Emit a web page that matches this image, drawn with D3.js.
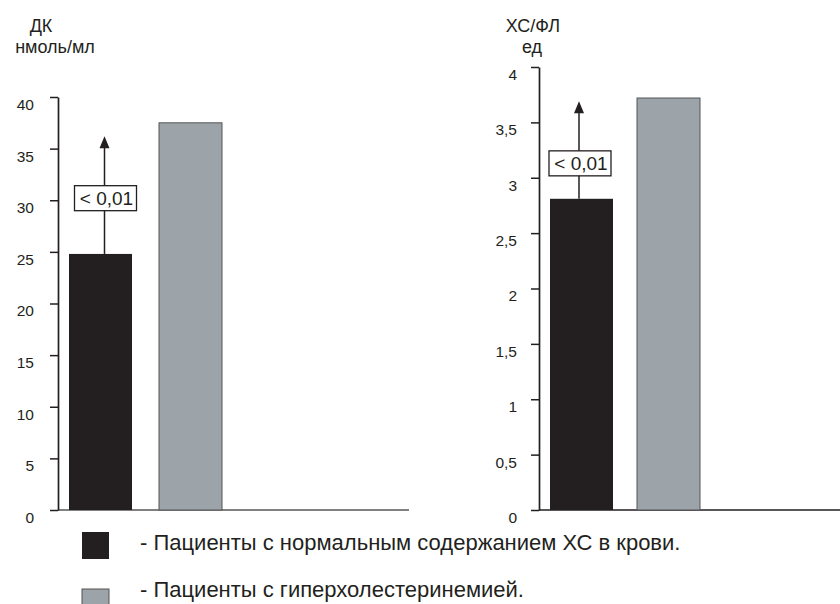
<!DOCTYPE html>
<html><head><meta charset="utf-8">
<script src="https://cdn.jsdelivr.net/npm/d3@7"></script>
<style>
html,body{margin:0;padding:0;background:#fff;}
svg{display:block;font-family:"Liberation Sans",Arial,Helvetica,sans-serif;}
</style></head>
<body>
<svg id="chart" width="840" height="604"></svg>
<script>
// ---- data ----
const groups = ["Пациенты с нормальным содержанием ХС в крови.", "Пациенты с гиперхолестеринемией."];
const groupColors = ["#231f20", "#9ca3a9"];
const dkValues = [24.8, 37.5];
const dkTicks = [0, 5, 10, 15, 20, 25, 30, 35, 40];
const dkTitle = ["ДК", "нмоль/мл"];
const xsflValues = [2.81, 3.72];
const xsflTicks = [0, 0.5, 1, 1.5, 2, 2.5, 3, 3.5, 4];
const xsflTitle = ["ХС/ФЛ", "ед"];
const pLabel = "< 0,01";
const dkArrow = {top: 36.2, box: 30.2};
const xsflArrow = {top: 3.69, box: 3.13};

const svg = d3.select("#chart");
const fmt = v => String(v).replace(".", ",");

function drawPanel(cfg) {
  const g = svg.append("g");
  const y = d3.scaleLinear().domain([0, cfg.max]).range([510, cfg.yTop]);
  const x = d3.scaleBand().domain(groups).range(cfg.barRange).paddingInner(cfg.pad).paddingOuter(0);

  // x axis baseline
  g.append("line").attr("x1", cfg.axisX).attr("x2", cfg.xEnd)
    .attr("y1", y(0)).attr("y2", y(0))
    .attr("stroke", cfg.baseColor).attr("stroke-width", cfg.baseWidth);

  // bars
  g.selectAll("rect.bar").data(cfg.values).enter().append("rect")
    .attr("class", "bar")
    .attr("x", (d, i) => x(groups[i]))
    .attr("width", x.bandwidth())
    .attr("y", d => y(d))
    .attr("height", d => y(0) - y(d))
    .attr("fill", (d, i) => groupColors[i])
    .attr("stroke", (d, i) => i === 1 ? "#555" : "none")
    .attr("stroke-width", 1);

  // y axis
  const ax = g.append("g").attr("transform", `translate(${cfg.axisX},0)`)
    .call(d3.axisLeft(y).tickValues(cfg.ticks).tickFormat(fmt).tickSize(8).tickPadding(cfg.tickPad).tickSizeOuter(0));
  ax.select(".domain").attr("stroke", "#231f20").attr("stroke-width", 1.7);
  ax.selectAll(".tick line").attr("stroke", "#231f20").attr("stroke-width", 1.5);
  ax.selectAll(".tick text").attr("font-size", 15.5).attr("fill", "#231f20")
    .attr("dy", "0.8em").attr("font-family", "Liberation Sans, Arial, sans-serif");

  // titles
  g.append("text").attr("x", cfg.t1x).attr("y", 32).attr("text-anchor", "middle")
    .attr("font-size", 18).attr("fill", "#231f20").text(cfg.title[0]);
  g.append("text").attr("x", cfg.t2x).attr("y", 53).attr("text-anchor", "middle")
    .attr("font-size", 18).attr("fill", "#231f20").text(cfg.title[1]);

  // significance arrow
  const ax0 = x(groups[0]) + x.bandwidth() / 2 + cfg.arrowDx;
  const tipY = y(cfg.arrow.top);
  g.append("line").attr("x1", ax0).attr("x2", ax0)
    .attr("y1", y(cfg.values[0])).attr("y2", tipY + 10)
    .attr("stroke", "#231f20").attr("stroke-width", 1.5);
  g.append("path")
    .attr("d", `M${ax0},${tipY} L${ax0 - 5},${tipY + 12} L${ax0 + 5},${tipY + 12} Z`)
    .attr("fill", "#231f20");
  const by = y(cfg.arrow.box);
  const bw = 62, bh = 25;
  g.append("rect").attr("x", ax0 - bw / 2 + 1).attr("y", by - bh / 2)
    .attr("width", bw).attr("height", bh)
    .attr("fill", "#fff").attr("stroke", "#231f20").attr("stroke-width", 1.3);
  g.append("text").attr("x", ax0 + 2).attr("y", by + 7).attr("text-anchor", "middle")
    .attr("font-size", 19).attr("fill", "#231f20").text(pLabel);
}

drawPanel({
  values: dkValues, ticks: dkTicks, max: 40, yTop: 97, title: dkTitle,
  axisX: 58, xEnd: 409, barRange: [69, 222], pad: 0.3,
  baseColor: "#808080", baseWidth: 2, t1x: 41, t2x: 55, tickPad: 16,
  arrow: dkArrow, arrowDx: 4
});
drawPanel({
  values: xsflValues, ticks: xsflTicks, max: 4, yTop: 67, title: xsflTitle,
  axisX: 539, xEnd: 840, barRange: [550, 700], pad: 0.276,
  baseColor: "#231f20", baseWidth: 1.4, t1x: 533, t2x: 532, tickPad: 14,
  arrow: xsflArrow, arrowDx: -2.5
});

// legend
const leg = svg.append("g");
const legY = [532, 589];
const legBase = [550, 597];
groups.forEach((name, i) => {
  leg.append("rect").attr("x", 82).attr("y", legY[i]).attr("width", 27).attr("height", 27)
    .attr("fill", groupColors[i]).attr("stroke", i === 1 ? "#555" : "none").attr("stroke-width", 1);
  leg.append("text").attr("x", 140).attr("y", legBase[i])
    .attr("font-size", 22).attr("fill", "#231f20").text("- " + name);
});
</script>
</body></html>
